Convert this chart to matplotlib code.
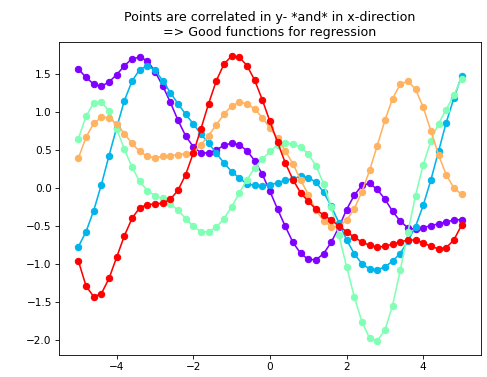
import numpy as np
import matplotlib
matplotlib.use("Agg")
import matplotlib.pyplot as plt

# x positions of the samples
x = np.linspace(-5, 5, 51)

purple = [1.565, 1.455, 1.365, 1.337, 1.395, 1.49, 1.607, 1.70, 1.72, 1.675,
          1.53, 1.345, 1.127, 0.89, 0.685, 0.54, 0.463, 0.46, 0.50, 0.56,
          0.59, 0.567, 0.49, 0.36, 0.18, -0.045, -0.28, -0.505, -0.715, -0.86,
          -0.94, -0.945, -0.865, -0.713, -0.516, -0.284, -0.097, 0.034, 0.06, -0.018,
          -0.147, -0.306, -0.437, -0.524, -0.546, -0.524, -0.494, -0.472, -0.445, -0.424,
          -0.415]
blue = [-0.773, -0.575, -0.297, 0.043, 0.425, 0.794, 1.148, 1.406, 1.557, 1.605,
        1.55, 1.413, 1.255, 1.107, 0.97, 0.843, 0.708, 0.59, 0.459, 0.328,
        0.216, 0.131, 0.052, 0.034, 0.03, 0.043, 0.066, 0.10, 0.122, 0.152,
        0.137, 0.076, -0.055, -0.24, -0.459, -0.682, -0.865, -0.996, -1.066, -1.075,
        -1.04, -0.962, -0.863, -0.70, -0.507, -0.23, 0.105, 0.48, 0.86, 1.18,
        1.47]
green = [0.65, 0.942, 1.118, 1.13, 1.013, 0.775, 0.512, 0.272, 0.087, -0.035,
         -0.103, -0.138, -0.21, -0.293, -0.402, -0.503, -0.577, -0.577, -0.516, -0.402,
         -0.249, -0.066, 0.109, 0.262, 0.38, 0.48, 0.567, 0.59, 0.58, 0.537,
         0.448, 0.292, 0.056, -0.255, -0.623, -1.035, -1.43, -1.76, -1.975, -2.01,
         -1.87, -1.55, -1.085, -0.585, -0.10, 0.305, 0.62, 0.848, 1.03, 1.22,
         1.44]
orange = [0.39, 0.668, 0.85, 0.93, 0.925, 0.841, 0.716, 0.585, 0.48, 0.415,
          0.397, 0.415, 0.425, 0.438, 0.45, 0.465, 0.567, 0.69, 0.83, 0.97,
          1.08, 1.127, 1.11, 1.04, 0.925, 0.786, 0.655, 0.489, 0.318, 0.109,
          -0.088, -0.29, -0.43, -0.511, -0.503, -0.424, -0.275, -0.05, 0.23, 0.556,
          0.89, 1.175, 1.363, 1.406, 1.30, 1.062, 0.753, 0.436, 0.174, 0.0,
          -0.083]
red = [-0.96, -1.29, -1.43, -1.39, -1.19, -0.91, -0.63, -0.40, -0.26, -0.22,
       -0.21, -0.20, -0.15, -0.03, 0.175, 0.46, 0.78, 1.11, 1.41, 1.63,
       1.735, 1.72, 1.61, 1.42, 1.16, 0.875, 0.60, 0.33, 0.11, -0.064,
       -0.175, -0.28, -0.36, -0.42, -0.50, -0.575, -0.65, -0.71, -0.755, -0.78,
       -0.765, -0.74, -0.71, -0.685, -0.685, -0.72, -0.77, -0.80, -0.785, -0.685,
       -0.49]

samples = [purple, blue, green, orange, red]
colors = plt.cm.rainbow(np.linspace(0, 1, len(samples)))

fig = plt.figure(figsize=(487 / 76, 377 / 76), dpi=76)
fig.subplots_adjust(left=0.1216, right=0.987, bottom=0.0584, top=0.889)

for y, c in zip(samples, colors):
    plt.plot(x, y, 'o-', color=c)

plt.title("Points are correlated in y- *and* in x-direction\n=> Good functions for regression")

plt.savefig("out.png", dpi=76)
